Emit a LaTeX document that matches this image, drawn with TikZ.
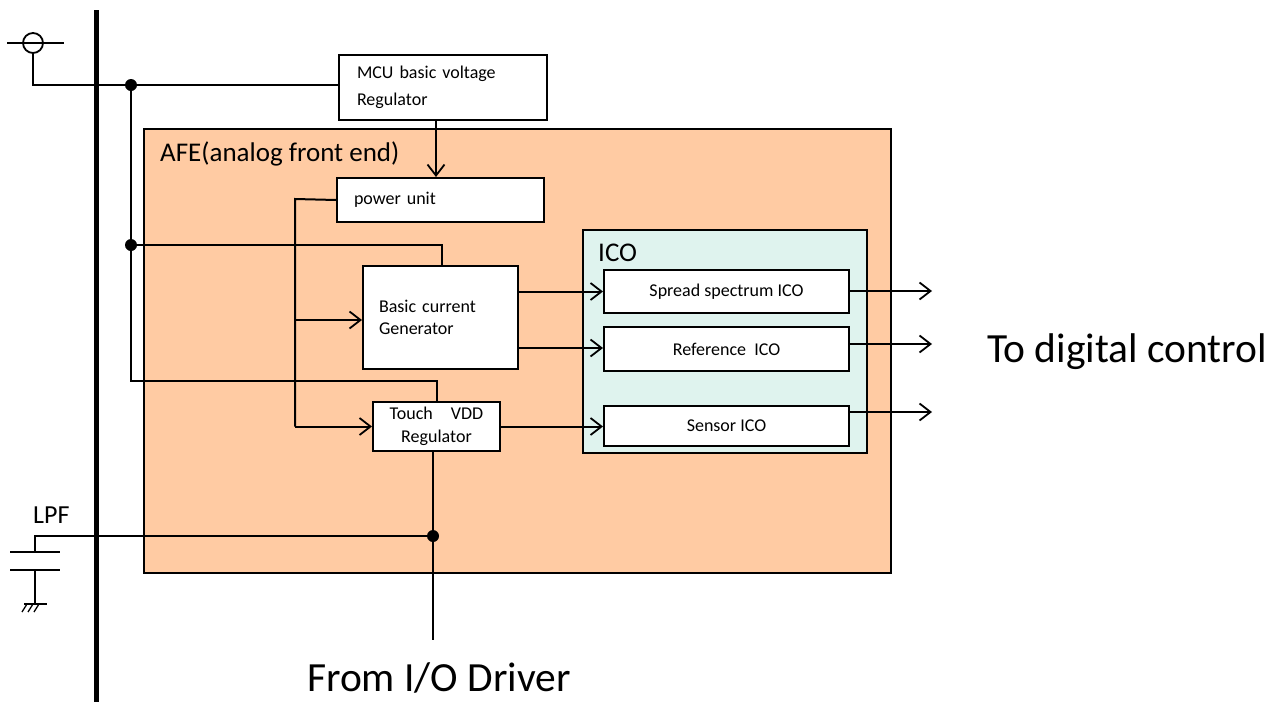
\documentclass[tikz,border=0pt]{standalone}
\usepackage{fontspec}
\setmainfont{Carlito}
\usetikzlibrary{arrows.meta,calc,positioning}
\definecolor{afefill}{HTML}{FFCBA3}
\definecolor{icofill}{HTML}{DFF3EE}
\tikzset{
  wire/.style={line width=2pt},
  arr/.style={wire,-{Straight Barb[length=11pt,width=17pt,line width=1.8pt]}},
  box/.style={draw,line width=2pt,fill=white,anchor=north west,inner ysep=0pt},
  small/.style={font=\fontsize{18}{22.5}\selectfont},
  dotn/.style={circle,fill=black,inner sep=0pt,minimum size=12pt}
}
\begin{document}
\begin{tikzpicture}[x=1pt,y=-1pt]
\useasboundingbox (0,0) rectangle (1282,702);
% AFE region
\node[draw,line width=1.8pt,fill=afefill,anchor=north west,minimum width=747,minimum height=444,inner sep=0pt] (afe) at (143,128) {};
\node[anchor=west,font=\fontsize{27}{30}\selectfont,inner sep=0pt] (afelbl) at (160,154) {AFE(analog front end)};
% ICO region
\node[draw,line width=1.8pt,fill=icofill,anchor=north west,minimum width=284,minimum height=223,inner sep=0pt] (ico) at (582,229) {};
\node[anchor=west,font=\fontsize{27}{30}\selectfont,inner sep=0pt] (icolbl) at (598,253) {ICO};
% boxes
\node[box,minimum height=65,text width=172pt,inner xsep=18pt,align=left,font=\fontsize{18}{27}\selectfont] (mcu) at (338,54) {MCU basic voltage\\Regulator};
\node[box,small,minimum height=44,text width=173pt,inner xsep=17pt,align=left] (pu) at (336,177) {power unit};
\node[box,small,minimum height=103,text width=123pt,inner xsep=16pt,align=left] (bcg) at (362,265) {Basic current\\Generator};
\node[box,small,minimum height=49,minimum width=127,inner xsep=0pt,align=center] (tvr) at (372,401) {Touch\quad VDD\\Regulator};
\node[box,small,minimum height=43,minimum width=245,inner xsep=0pt] (ss) at (603,269) {Spread spectrum ICO};
\node[box,small,minimum height=44,minimum width=245,inner xsep=0pt] (ref) at (603,326) {Reference\ \ ICO};
\node[box,small,minimum height=40,minimum width=245,inner xsep=0pt] (sen) at (603,405) {Sensor ICO};
% texts
\node[anchor=west,font=\fontsize{41.5}{44}\selectfont,inner sep=0pt] (todig) at (987,352) {To digital control};
\node[anchor=west,font=\fontsize{41.5}{44}\selectfont,inner sep=0pt] (fromio) at (307,678) {From I/O Driver};
\node[anchor=west,font=\fontsize{26}{28}\selectfont,inner sep=0pt] (lpf) at (33,515) {LPF};
% bus
\coordinate (bustop) at (96,10);
\coordinate (busbot) at (96,702);
\draw[line width=5pt] (bustop) -- (busbot);
% supply symbol
\node[draw,circle,line width=1.8pt,minimum size=20pt,inner sep=0pt] (sup) at (33,43) {};
\coordinate (supl) at (7,43);
\coordinate (supr) at (64,43);
\draw[wire] (supl) -- (supr);
\node[dotn] (d1) at (131,85) {};
\draw[wire] (sup.south) |- (d1.center) -- (mcu.west |- d1.center);
\node[dotn] (d2) at (131,245) {};
\coordinate (c3) at (131,381);
\draw[wire] (d1.center) -- (d2.center) -- (c3) -| (tvr.north);
\draw[wire] (d2.center) -| ($(bcg.north)+(1,0)$);
% mcu to power unit
\draw[arr] ($(mcu.south west)+(98,0)$) -- ($(pu.north west)+(100,0)$);
% power unit distribution
\coordinate (pv) at (295,199);
\draw[wire] (pu.west) -- (pv) -- (pv |- tvr.west);
\draw[arr] (pv |- 0,320) -- (bcg.west |- 0,320);
\draw[arr] (pv |- tvr.west) -- (tvr.west);
% to ICOs
\draw[arr] (bcg.east |- ss.west) -- (ss.west);
\draw[arr] ($(bcg.east |- ref.west)+(0,-1)$) -- ($(ref.west)+(0,-1)$);
\draw[arr] (tvr.east) -- (tvr.east -| sen.west);
% outputs
\coordinate (o1) at (932,291);
\coordinate (o2) at (932,344);
\coordinate (o3) at (932,412);
\draw[arr] (ss.east |- o1) -- (o1);
\draw[arr] (ref.east |- o2) -- (o2);
\draw[arr] (sen.east |- o3) -- (o3);
% IO line and LPF
\coordinate (iob) at (433,640);
\node[dotn] (d3) at (433,536) {};
\draw[wire] (tvr.south -| d3) -- (iob);
\coordinate (lpfc) at (35,536);
\coordinate (p1) at (35,552);
\coordinate (p2) at (35,570);
\coordinate (gnd) at (35,604);
\draw[wire] (d3.center) -- (lpfc) -- (p1);
\draw[wire] ($(p1)+(-25,0)$) -- ($(p1)+(25,0)$);
\draw[wire] ($(p2)+(-25,0)$) -- ($(p2)+(25,0)$);
\draw[wire] (p2) -- (gnd);
\draw[wire] ($(gnd)+(-11,0)$) -- ($(gnd)+(12,0)$);
\foreach \dx in {-8,-2,4}
  \draw[line width=1.3pt] ($(gnd)+(\dx,0)$) -- ++(-5,8);
\end{tikzpicture}
\end{document}
